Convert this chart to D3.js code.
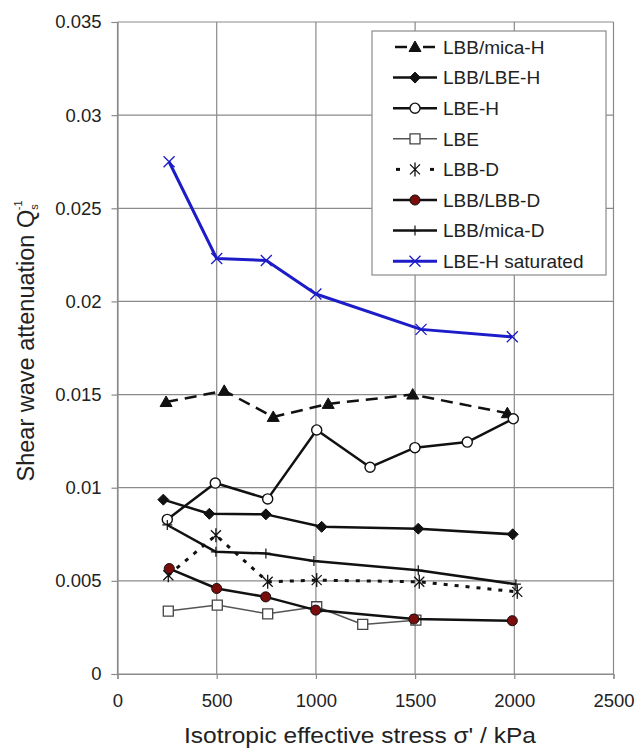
<!DOCTYPE html>
<html>
<head>
<meta charset="utf-8">
<script src="https://cdn.jsdelivr.net/npm/d3@7"></script>
<style>
  body { margin: 0; background: #fff; }
  svg text { font-family: Arial, "Liberation Sans", sans-serif; fill: #222; }
</style>
</head>
<body>
<svg class="chart" width="637" height="749"></svg>
<script>
// values
var micaH_x = [245, 538, 785, 1062, 1488, 1965];
var micaH_y = [0.0146, 0.0152, 0.0138, 0.0145, 0.0150, 0.0140];

var lbbLbeH_x = [231, 463, 748, 1029, 1516, 1992];
var lbbLbeH_y = [0.00936, 0.0086, 0.00857, 0.0079, 0.0078, 0.0075];

var lbeH_x = [251, 493, 757, 1004, 1273, 1499, 1763, 1995];
var lbeH_y = [0.0083, 0.01025, 0.0094, 0.0131, 0.0111, 0.01215, 0.01245, 0.0137];

var lbe_x = [256, 503, 757, 1004, 1236, 1504];
var lbe_y = [0.00338, 0.0037, 0.00323, 0.00361, 0.00266, 0.00289];

var lbbD_x = [256, 496, 757, 1004, 1521, 2015];
var lbbD_y = [0.0053, 0.00745, 0.00495, 0.00504, 0.00495, 0.00441];

var lbbLbbD_x = [261, 500, 747, 999, 1494, 1990];
var lbbLbbD_y = [0.00566, 0.00459, 0.00414, 0.00343, 0.00295, 0.00286];

var micaD_x = [251, 496, 748, 990, 1516, 2008];
var micaD_y = [0.0080, 0.00656, 0.00647, 0.00607, 0.00557, 0.00482];

var sat_x = [260, 500, 750, 1000, 1530, 1990];
var sat_y = [0.0275, 0.0223, 0.0222, 0.0204, 0.0185, 0.0181];

var seriesNames = ["LBB/mica-H", "LBB/LBE-H", "LBE-H", "LBE", "LBB-D", "LBB/LBB-D", "LBB/mica-D", "LBE-H saturated"];
var xTicks = [0, 500, 1000, 1500, 2000, 2500];
var yTicks = [0, 0.005, 0.01, 0.015, 0.02, 0.025, 0.03, 0.035];

var LEFT = 117.5, RIGHT = 613.5, TOP = 22, BOTTOM = 674;

// styles, one per series
var STYLES = [
    { line: "#111", width: 2.5, dash: "12,7", marker: "triangle", fill: "#111", mstroke: "#111", mw: 1 },
    { line: "#111", width: 2.5, dash: null, marker: "diamond", fill: "#111", mstroke: "#111", mw: 1 },
    { line: "#111", width: 2.5, dash: null, marker: "circle", fill: "#fff", mstroke: "#111", mw: 1.4 },
    { line: "#555", width: 1.5, dash: null, marker: "square", fill: "#fff", mstroke: "#444", mw: 1.3 },
    { line: "#111", width: 3, dash: "4,7", marker: "asterisk", fill: "none", mstroke: "#111", mw: 1.3 },
    { line: "#111", width: 2.5, dash: null, marker: "circle", fill: "#7a0c0c", mstroke: "#111", mw: 1 },
    { line: "#111", width: 2.5, dash: null, marker: "plus", fill: "none", mstroke: "#111", mw: 1.2 },
    { line: "#1c1cc8", width: 3, dash: null, marker: "x", fill: "none", mstroke: "#1c1cc8", mw: 1.3 }
];

function markerPath(type) {
    switch (type) {
        case "triangle": return "M0,-6L6,4.5L-6,4.5Z";
        case "diamond": return "M0,-5.5L5.5,0L0,5.5L-5.5,0Z";
        case "circle": return d3.symbol(d3.symbolCircle, 80)();
        case "square": return "M-5,-5H5V5H-5Z";
        case "asterisk": return "M-5,-5L5,5M-5,5L5,-5M0,-7V7";
        case "plus": return "M-5,0H5M0,-5V5";
        case "x": return "M-5.5,-5.5L5.5,5.5M-5.5,5.5L5.5,-5.5";
    }
}

function buildChart() {
    var svg = d3.select(".chart");
    var x = d3.scaleLinear().domain([0, 2500]).range([LEFT, RIGHT]);
    var y = d3.scaleLinear().domain([0, 0.035]).range([BOTTOM, TOP]);

    // grid
    svg.append("g").selectAll("line.h")
        .data(yTicks).enter().append("line")
        .attr("x1", LEFT).attr("x2", RIGHT)
        .attr("y1", function(d) { return y(d); })
        .attr("y2", function(d) { return y(d); })
        .attr("stroke", "#8a8a8a").attr("stroke-width", 1.2);
    svg.append("g").selectAll("line.v")
        .data(xTicks).enter().append("line")
        .attr("y1", TOP).attr("y2", BOTTOM)
        .attr("x1", function(d) { return x(d); })
        .attr("x2", function(d) { return x(d); })
        .attr("stroke", "#8a8a8a").attr("stroke-width", 1.2);

    // axes
    var xAxis = svg.append("g")
        .attr("transform", "translate(0," + BOTTOM + ")")
        .call(d3.axisBottom(x).tickValues(xTicks).tickSize(5).tickPadding(15).tickFormat(d3.format("d")));
    var yAxis = svg.append("g")
        .attr("transform", "translate(" + LEFT + ",0)")
        .call(d3.axisLeft(y).tickValues(yTicks).tickSize(6).tickPadding(10)
              .tickFormat(function(d) { return d === 0 ? "0" : String(+d.toFixed(3)); }));
    [xAxis, yAxis].forEach(function(a) {
        a.select(".domain").attr("stroke", "#8a8a8a").attr("stroke-width", 1.2);
        a.selectAll(".tick line").attr("stroke", "#8a8a8a").attr("stroke-width", 1.2);
        a.selectAll(".tick text").style("font-size", "18.5px").attr("fill", "#222");
    });

    // axis titles
    svg.append("text")
        .attr("x", 360).attr("y", 743)
        .attr("text-anchor", "middle")
        .attr("textLength", 352)
        .attr("lengthAdjust", "spacingAndGlyphs")
        .style("font-size", "22.5px")
        .text("Isotropic effective stress σ' / kPa");

    var yt = svg.append("text")
        .attr("transform", "translate(34,341) rotate(-90)")
        .attr("text-anchor", "middle")
        .style("font-size", "23.5px");
    yt.append("tspan").text("Shear wave attenuation Q");
    yt.append("tspan").attr("dy", 4).style("font-size", "11px").text("s");
    yt.append("tspan").attr("dy", -16).attr("dx", -6).style("font-size", "11px").text("-1");

    var xs = [micaH_x, lbbLbeH_x, lbeH_x, lbe_x, lbbD_x, lbbLbbD_x, micaD_x, sat_x];
    var ys = [micaH_y, lbbLbeH_y, lbeH_y, lbe_y, lbbD_y, lbbLbbD_y, micaD_y, sat_y];
    var series = seriesNames.map(function(name, i) {
        return { name: name, style: STYLES[i],
                 points: xs[i].map(function(v, j) { return { x: v, y: ys[i][j] }; }) };
    });

    var line = d3.line()
        .x(function(d) { return x(d.x); })
        .y(function(d) { return y(d.y); });

    var g = svg.selectAll(".series")
        .data(series)
        .enter().append("g")
        .attr("class", "series");

    g.append("path")
        .attr("d", function(d) { return line(d.points); })
        .attr("fill", "none")
        .attr("stroke", function(d) { return d.style.line; })
        .attr("stroke-width", function(d) { return d.style.width; })
        .attr("stroke-dasharray", function(d) { return d.style.dash; })
        .attr("stroke-linejoin", "round");

    g.selectAll(".mk")
        .data(function(d) { return d.points.map(function(p) { return { p: p, s: d.style }; }); })
        .enter().append("path")
        .attr("transform", function(d) { return "translate(" + x(d.p.x) + "," + y(d.p.y) + ")"; })
        .attr("d", function(d) { return markerPath(d.s.marker); })
        .attr("fill", function(d) { return d.s.fill; })
        .attr("stroke", function(d) { return d.s.mstroke; })
        .attr("stroke-width", function(d) { return d.s.mw; });

    // legend
    var leg = svg.append("g");
    leg.append("rect")
        .attr("x", 372).attr("y", 31).attr("width", 234).attr("height", 244)
        .attr("fill", "#fff").attr("stroke", "#8a8a8a").attr("stroke-width", 1.2);
    var item = leg.selectAll(".item")
        .data(series)
        .enter().append("g")
        .attr("transform", function(d, i) { return "translate(0," + (47 + i * 30.6) + ")"; });
    item.each(function(d) {
        var it = d3.select(this);
        var segs;
        if (d.style.dash === "12,7") segs = [[395, 407], [423, 435]];
        else if (d.style.dash) segs = [[396, 400], [430, 434]];
        else segs = [[393, 437]];
        segs.forEach(function(s) {
            it.append("line")
                .attr("x1", s[0]).attr("x2", s[1])
                .attr("stroke", d.style.line)
                .attr("stroke-width", d.style.width);
        });
        it.append("path")
            .attr("transform", "translate(415,0)")
            .attr("d", markerPath(d.style.marker))
            .attr("fill", d.style.fill)
            .attr("stroke", d.style.mstroke)
            .attr("stroke-width", d.style.mw);
        it.append("text")
            .attr("x", 443).attr("dy", "0.36em")
            .style("font-size", "19px")
            .text(d.name);
    });
}

buildChart();
</script>
</body>
</html>
